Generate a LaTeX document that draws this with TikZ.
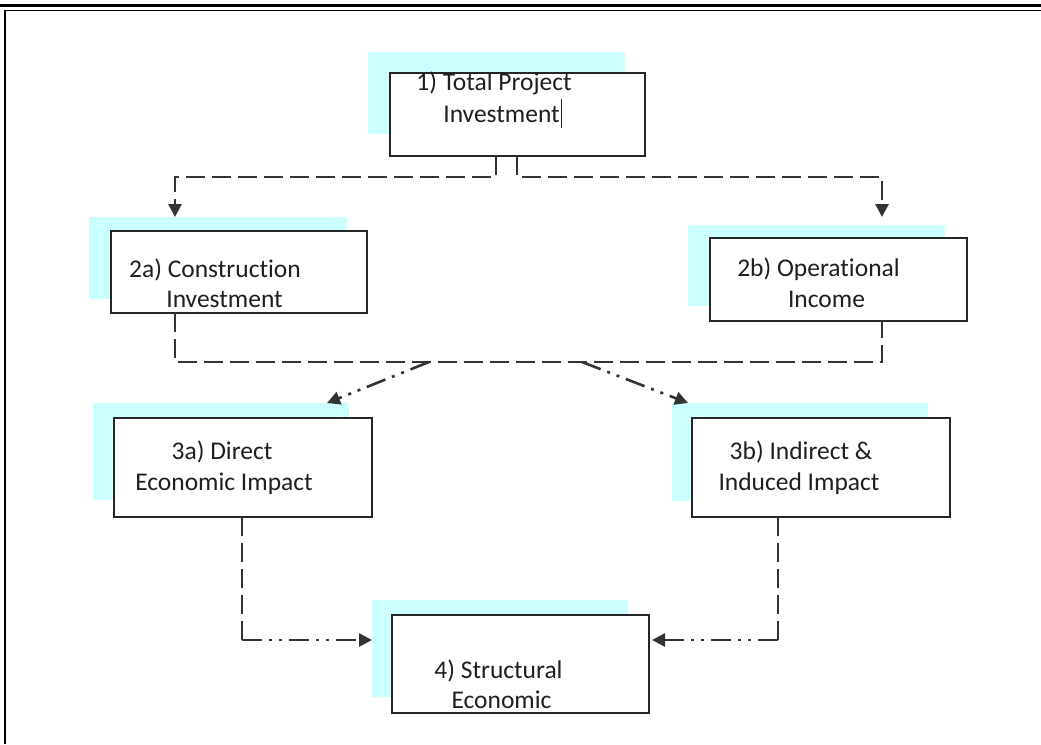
\documentclass[tikz,border=0pt]{standalone}
\usepackage{fontspec}
\setmainfont{Carlito}[Ligatures=NoCommon]
\usetikzlibrary{arrows.meta}
\definecolor{shadowcyan}{HTML}{CCFFFF}
\definecolor{linegray}{HTML}{333333}
\definecolor{textgray}{HTML}{1F1F1F}

\begin{document}
\begin{tikzpicture}[x=1pt,y=-1pt,
  shade/.style={fill=shadowcyan,draw=none,inner sep=0pt,outer sep=0pt},
  stage/.style={draw=black!85,line width=1.5pt,fill=white,inner sep=0pt,outer sep=0pt},
  stagetext/.style={font=\fontsize{25.5}{31}\selectfont,text=textgray,inner sep=0pt,outer sep=0pt,anchor=base},
  dashln/.style={draw=linegray,line width=2.8pt,dash pattern=on 19pt off 7pt},
  dotdashln/.style={draw=linegray,line width=2.6pt,dash pattern=on 20pt off 7pt on 3pt off 7pt on 3pt off 7pt},
  tip/.style={-{Triangle[length=13pt,width=13pt]}}]

\useasboundingbox (0,0) rectangle (1041,744);

% page frame
\draw[line width=3pt] (0,5.8) -- (1041,5.8);
\draw[line width=1.3pt] (1041,10.8) -- (5,10.8) -- (5,744);

% cyan backing panels
\node[shade,minimum width=257pt,minimum height=82pt] (sh1)  at (496.5,93)    {};
\node[shade,minimum width=258pt,minimum height=82pt] (sh2a) at (218,258)     {};
\node[shade,minimum width=257pt,minimum height=81pt] (sh2b) at (816.5,265.5) {};
\node[shade,minimum width=256pt,minimum height=97pt] (sh3a) at (221,451.5)   {};
\node[shade,minimum width=256pt,minimum height=98pt] (sh3b) at (800,452)     {};
\node[shade,minimum width=256pt,minimum height=97pt] (sh4)  at (500,648.5)   {};

% stage boxes
\node[stage,minimum width=255pt,minimum height=83pt] (b1)  at (517.5,114.5) {};
\node[stage,minimum width=256pt,minimum height=82pt] (b2a) at (239,272)     {};
\node[stage,minimum width=257pt,minimum height=83pt] (b2b) at (838.5,279.5) {};
\node[stage,minimum width=258pt,minimum height=99pt] (b3a) at (243,467.5)   {};
\node[stage,minimum width=258pt,minimum height=99pt] (b3b) at (821,467.5)   {};
\node[stage,minimum width=257pt,minimum height=98pt] (b4)  at (520.5,664)   {};

% box texts
\node[stagetext] (t1a)  at (494,90)    {1) Total Project};
\node[stagetext] (t1b)  at (501.5,122) {Investment};
\node[stagetext] (t2aa) at (215,277)   {2a) Construction};
\node[stagetext] (t2ab) at (224.5,307) {Investment};
\node[stagetext] (t2ba) at (818.5,276) {2b) Operational};
\node[stagetext] (t2bb) at (826.5,307) {Income};
\node[stagetext] (t3aa) at (222,459)   {3a) Direct};
\node[stagetext] (t3ab) at (224,490)   {Economic Impact};
\node[stagetext] (t3ba) at (801,459)   {3b) Indirect \&};
\node[stagetext] (t3bb) at (799,490)   {Induced Impact};
\node[stagetext] (t4a)  at (498.5,678) {4) Structural};
\node[stagetext] (t4b)  at (501.5,708) {Economic};

% text cursor after "Investment"
\draw[line width=1.3pt,textgray] ([xshift=1.5pt,yshift=-6pt]t1b.base east) -- ++(0,-29);

% junction points
\coordinate (k1) at (496,177);
\coordinate (k2) at (517,177);
\coordinate (k3) at (175,177);
\coordinate (k4) at (882,177);
\coordinate (k4e) at (882,217);
\coordinate (m1) at (175,362);
\coordinate (m2) at (882,362);
\coordinate (d1) at (429,362);
\coordinate (d2) at (582,362);
\coordinate (e1) at (327,403);
\coordinate (e2) at (688,403);
\coordinate (n1) at (242,640);
\coordinate (n2) at (778,640);

% 1 -> 2a / 2b
\draw[dashln,tip] (b1.south -| k1) -- (k1) -- (k3) -- (k3 |- sh2a.north);
\draw[dashln,tip] (b1.south -| k2) -- (k2) -- (k4) -- (k4e);

% 2a / 2b collector
\draw[dashln] (b2a.south -| m1) -- (m1) -- (m2) -- (b2b.south -| m2);

% collector -> 3a / 3b
\draw[dotdashln,tip] (d1) -- (e1);
\draw[dotdashln,tip] (d2) -- (e2);

% 3a / 3b -> 4
\draw[dashln] (b3a.south -| n1) -- (n1);
\draw[dotdashln,tip] (n1) -- (sh4.west |- n1);
\draw[dashln] (b3b.south -| n2) -- (n2);
\draw[dotdashln,tip] (n2) -- ([xshift=3pt]b4.east |- n2);

\end{tikzpicture}
\end{document}
